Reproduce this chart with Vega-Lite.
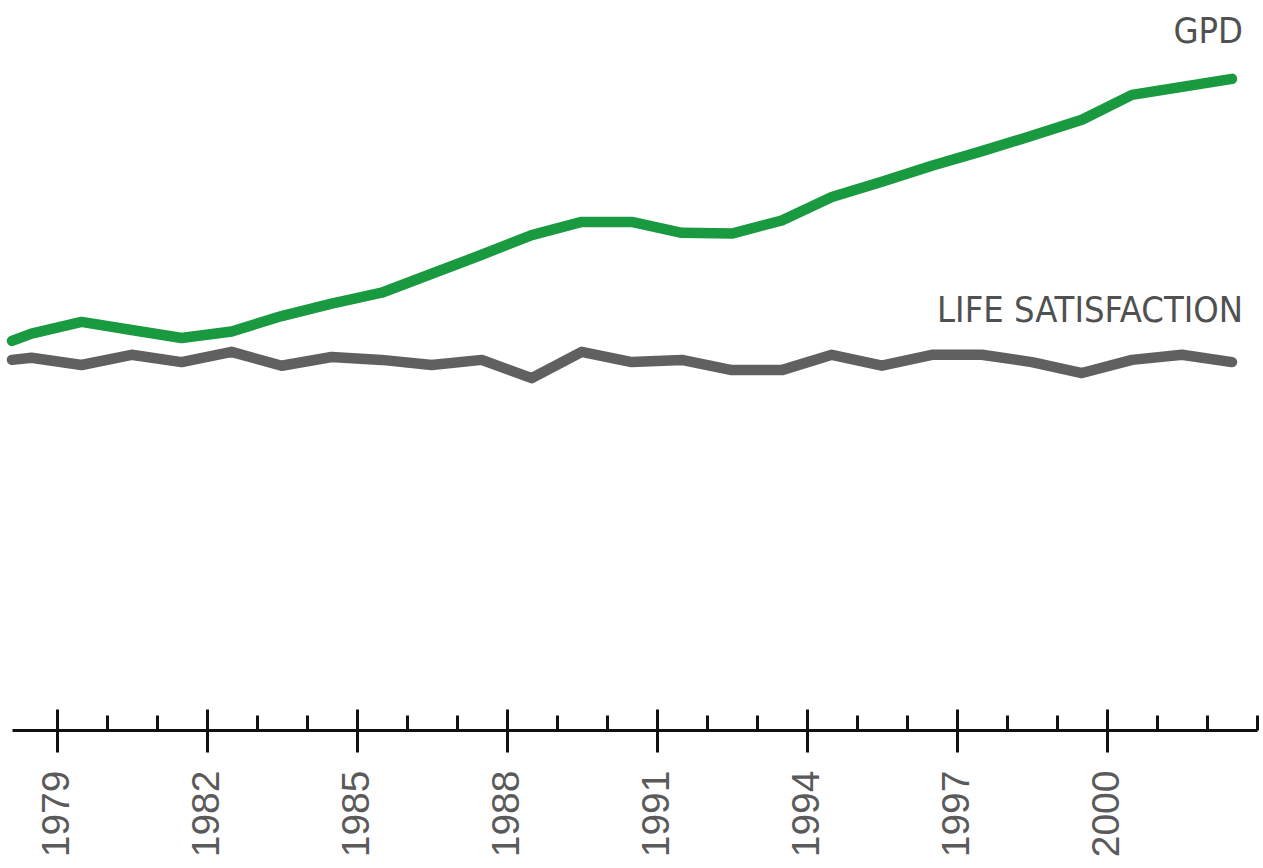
{
  "$schema": "https://vega.github.io/schema/vega-lite/v6.json",
  "autosize": {"type": "none"},
  "width": 1245,
  "height": 730,
  "padding": {"left": 12, "top": 0, "right": 6, "bottom": 138},
  "background": "white",
  "config": {"view": {"stroke": null}},
  "datasets": {
    "gdp": [
      {"year": 1978.11, "value": 53.3},
      {"year": 1978.5, "value": 54.3},
      {"year": 1979.5, "value": 55.9},
      {"year": 1980.5, "value": 54.8},
      {"year": 1981.5, "value": 53.7},
      {"year": 1982.5, "value": 54.6},
      {"year": 1983.5, "value": 56.7},
      {"year": 1984.5, "value": 58.4},
      {"year": 1985.5, "value": 59.9},
      {"year": 1986.5, "value": 62.5},
      {"year": 1987.5, "value": 65.1},
      {"year": 1988.5, "value": 67.8},
      {"year": 1989.5, "value": 69.6},
      {"year": 1990.5, "value": 69.6},
      {"year": 1991.5, "value": 68.1},
      {"year": 1992.5, "value": 68.0},
      {"year": 1993.5, "value": 69.8},
      {"year": 1994.5, "value": 73.0},
      {"year": 1995.5, "value": 75.1},
      {"year": 1996.5, "value": 77.3},
      {"year": 1997.5, "value": 79.3},
      {"year": 1998.5, "value": 81.4},
      {"year": 1999.5, "value": 83.6},
      {"year": 2000.5, "value": 87.0},
      {"year": 2001.5, "value": 88.1},
      {"year": 2002.5, "value": 89.2}
    ],
    "life": [
      {"year": 1978.11, "value": 50.7},
      {"year": 1978.5, "value": 51.0},
      {"year": 1979.5, "value": 50.0},
      {"year": 1980.5, "value": 51.4},
      {"year": 1981.5, "value": 50.4},
      {"year": 1982.5, "value": 51.8},
      {"year": 1983.5, "value": 49.9},
      {"year": 1984.5, "value": 51.1},
      {"year": 1985.5, "value": 50.7},
      {"year": 1986.5, "value": 50.0},
      {"year": 1987.5, "value": 50.7},
      {"year": 1988.5, "value": 48.2},
      {"year": 1989.5, "value": 51.8},
      {"year": 1990.5, "value": 50.4},
      {"year": 1991.5, "value": 50.7},
      {"year": 1992.5, "value": 49.3},
      {"year": 1993.5, "value": 49.3},
      {"year": 1994.5, "value": 51.4},
      {"year": 1995.5, "value": 49.9},
      {"year": 1996.5, "value": 51.4},
      {"year": 1997.5, "value": 51.4},
      {"year": 1998.5, "value": 50.4},
      {"year": 1999.5, "value": 48.9},
      {"year": 2000.5, "value": 50.7},
      {"year": 2001.5, "value": 51.4},
      {"year": 2002.5, "value": 50.4}
    ],
    "labels": [
      {"year": 2002.72, "value": 94.1, "label": "GPD"},
      {"year": 2002.72, "value": 55.9, "label": "LIFE SATISFACTION"}
    ]
  },
  "resolve": {"axis": {"x": "independent"}},
  "layer": [
    {
      "data": {"name": "gdp"},
      "mark": {"type": "line", "color": "#1a9a40", "strokeWidth": 10.5, "strokeCap": "round", "strokeJoin": "round"},
      "encoding": {
        "x": {
          "field": "year", "type": "quantitative",
          "scale": {"domain": [1978.11, 2003], "nice": false, "zero": false},
          "axis": {
            "orient": "bottom",
            "title": null,
            "values": [1979, 1982, 1985, 1988, 1991, 1994, 1997, 2000],
            "format": "d",
            "grid": false,
            "domain": true, "domainColor": "#111", "domainWidth": 3,
            "ticks": true, "tickColor": "#111", "tickWidth": 3, "tickSize": 22,
            "labelAngle": -90, "labelFont": "Liberation Sans", "labelFontSize": 39,
            "labelColor": "#5a5a5a", "labelPadding": 18, "labelFlush": false, "labelOverlap": false
          }
        },
        "y": {"field": "value", "type": "quantitative", "scale": {"domain": [0, 100], "nice": false, "zero": false}, "axis": null}
      }
    },
    {
      "data": {"name": "life"},
      "mark": {"type": "line", "color": "#606060", "strokeWidth": 10.5, "strokeCap": "round", "strokeJoin": "round"},
      "encoding": {
        "x": {
          "field": "year", "type": "quantitative",
          "axis": {
            "orient": "bottom",
            "title": null,
            "values": [1979, 1982, 1985, 1988, 1991, 1994, 1997, 2000],
            "grid": false, "domain": false, "labels": false,
            "ticks": true, "tickColor": "#111", "tickWidth": 3, "tickSize": -21
          }
        },
        "y": {"field": "value", "type": "quantitative", "axis": null}
      }
    },
    {
      "data": {"name": "labels"},
      "mark": {"type": "text", "align": "right", "baseline": "alphabetic", "font": "Liberation Sans Narrow, DejaVu Sans Condensed, sans-serif", "fontSize": 36, "color": "#505050"},
      "encoding": {
        "x": {
          "field": "year", "type": "quantitative",
          "axis": {
            "orient": "bottom",
            "title": null,
            "values": [1979, 1980, 1981, 1982, 1983, 1984, 1985, 1986, 1987, 1988, 1989, 1990, 1991, 1992, 1993, 1994, 1995, 1996, 1997, 1998, 1999, 2000, 2001, 2002, 2003],
            "grid": false, "domain": false, "labels": false,
            "ticks": true, "tickColor": "#111", "tickWidth": 3, "tickSize": -15
          }
        },
        "y": {"field": "value", "type": "quantitative", "axis": null},
        "text": {"field": "label", "type": "nominal"}
      }
    }
  ]
}
